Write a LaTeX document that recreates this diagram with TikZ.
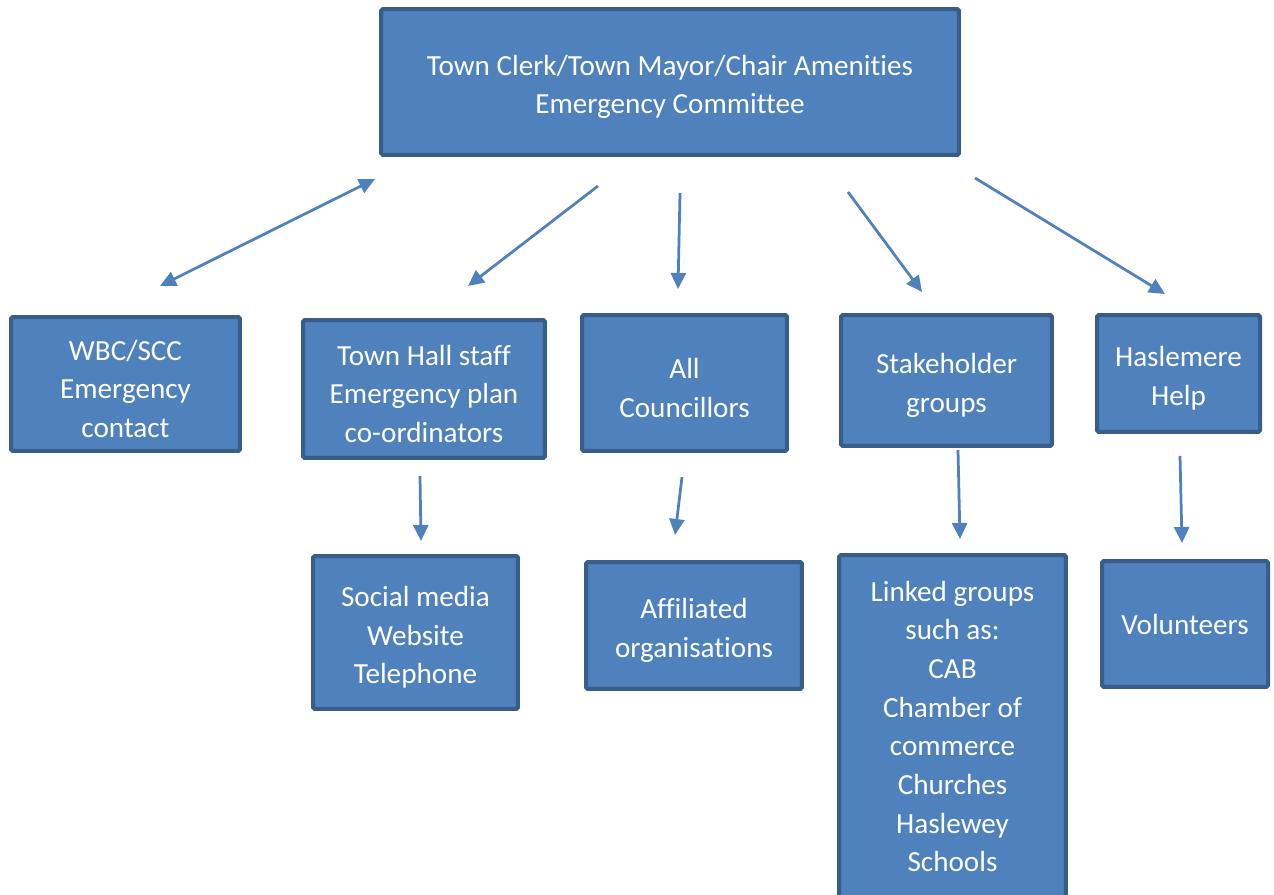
\documentclass[tikz,border=0pt]{standalone}
\usepackage{fontspec}
\setmainfont{Carlito}[Ligatures=NoCommon]
\usetikzlibrary{arrows.meta,positioning}
\definecolor{blkfill}{RGB}{79,129,189}
\definecolor{blkbdr}{RGB}{56,93,138}
\definecolor{arrowclr}{RGB}{79,129,189}
\newcommand{\fstrut}{\rule{0pt}{17pt}}
\tikzset{
  orgblk/.style={rectangle,rounded corners=1pt,draw=blkbdr,fill=blkfill,
    line width=0.08cm,font=\fontsize{16.6}{22}\selectfont,align=center,
    text=white,inner sep=0pt},
  arr/.style={-{Triangle[length=0.32cm,width=0.3cm]},line width=0.055cm,
    color=arrowclr},
  barr/.style={arr,{Triangle[length=0.32cm,width=0.3cm]}-{Triangle[length=0.32cm,width=0.3cm]}},
}
\begin{document}
\begin{tikzpicture}[x=0.02cm,y=-0.02cm]
  \useasboundingbox (0,0) rectangle (1274,895);

  % top level
  \node[orgblk,minimum width=11.56cm,minimum height=2.92cm] (clerk) at (670,82)
    {\fstrut Town Clerk/Town Mayor/Chair Amenities\\Emergency Committee};

  % second row
  \node[orgblk,minimum width=4.58cm,minimum height=2.68cm] (wbc) at (125.5,384)
    {\fstrut WBC/SCC\\Emergency\\contact};
  \node[orgblk,minimum width=4.84cm,minimum height=2.76cm] (thall) at (424,389)
    {\fstrut Town Hall staff\\Emergency plan\\co-ordinators};
  \node[orgblk,minimum width=4.10cm,minimum height=2.72cm] (allc) at (684.5,383)
    {\fstrut All\\Councillors};
  \node[orgblk,minimum width=4.22cm,minimum height=2.62cm] (stake) at (946.5,380.5)
    {\fstrut Stakeholder\\groups};
  \node[orgblk,minimum width=3.26cm,minimum height=2.34cm] (hhelp) at (1178.5,373.5)
    {\fstrut Haslemere\\Help};

  % third row
  \node[orgblk,minimum width=4.10cm,minimum height=3.06cm] (social) at (415.5,632.5)
    {\fstrut Social media\\Website\\Telephone};
  \node[orgblk,minimum width=4.32cm,minimum height=2.54cm] (affil) at (694,625.5)
    {\fstrut Affiliated\\organisations};
  \node[orgblk,minimum width=4.54cm,minimum height=6.86cm] (linked) at (952.5,726.5)
    {Linked groups\\such as:\\CAB\\Chamber of\\commerce\\Churches\\Haslewey\\Schools};
  \node[orgblk,minimum width=3.32cm,minimum height=2.52cm] (vol) at (1185,624)
    {Volunteers};

  % arrow ends
  \coordinate (wbcS) at (160,286);   \coordinate (wbcT) at (375,179);
  \coordinate (thS) at (598,186);    \coordinate (thT) at (468,286);
  \coordinate (acS) at (680,193);    \coordinate (acT) at (678,289);
  \coordinate (skS) at (848,192);    \coordinate (skT) at (922,292);
  \coordinate (hhS) at (975,178);    \coordinate (hhT) at (1165,294);
  \coordinate (soS) at (420,476);    \coordinate (soT) at (421,541);
  \coordinate (afS) at (682,477);    \coordinate (afT) at (675,535);
  \coordinate (lkS) at (958,450);    \coordinate (lkT) at (960,539);
  \coordinate (voS) at (1180,456);   \coordinate (voT) at (1182,543);

  \draw[barr] (wbcS) -- (wbcT);
  \draw[arr] (thS) -- (thT);
  \draw[arr] (acS) -- (acT);
  \draw[arr] (skS) -- (skT);
  \draw[arr] (hhS) -- (hhT);
  \draw[arr] (soS) -- (soT);
  \draw[arr] (afS) -- (afT);
  \draw[arr] (lkS) -- (lkT);
  \draw[arr] (voS) -- (voT);

\end{tikzpicture}
\end{document}
